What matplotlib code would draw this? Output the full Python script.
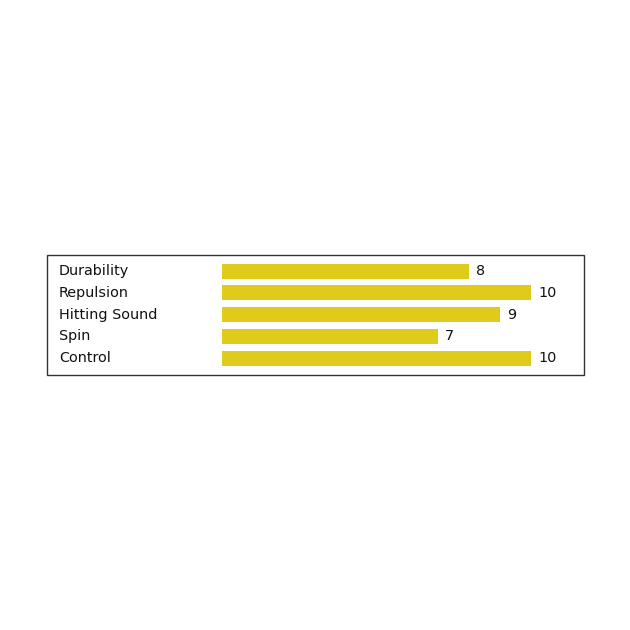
import matplotlib
matplotlib.use("Agg")
import matplotlib.pyplot as plt
from matplotlib.patches import Rectangle
from matplotlib.transforms import blended_transform_factory

categories = ["Durability", "Repulsion", "Hitting Sound", "Spin", "Control"]
values = [8, 10, 9, 7, 10]

W = H = 630
fig = plt.figure(figsize=(6.3, 6.3), dpi=100)
fig.patch.set_facecolor("white")

def fx(px):
    return px / W

def fy(py):
    return 1 - py / H

# frame box
fig.patches.append(Rectangle((fx(47), fy(375)), fx(584) - fx(47), fy(255) - fy(375),
                             transform=fig.transFigure, fill=False,
                             edgecolor="#333333", linewidth=1.0))

ax = fig.add_axes([fx(222), fy(375), fx(584) - fx(222), fy(255) - fy(375)])
ax.set_axis_off()
y = list(range(len(categories)))
ax.barh(y, values, height=0.69, color="#E0CB1C", left=0)
ax.set_xlim(0, 11.71)
ax.set_ylim(4.78, -0.74)

font = dict(family="DejaVu Sans", fontsize=10.4, color="#111111")
trans = blended_transform_factory(fig.transFigure, ax.transData)
for yi, cat, v in zip(y, categories, values):
    fig.text(fx(59), yi, cat, transform=trans, ha="left", va="center", **font)
    ax.annotate(str(v), (v, yi), xytext=(5, 0), textcoords="offset points",
                ha="left", va="center", **font)

fig.savefig("out.png", dpi=100, facecolor="white")
